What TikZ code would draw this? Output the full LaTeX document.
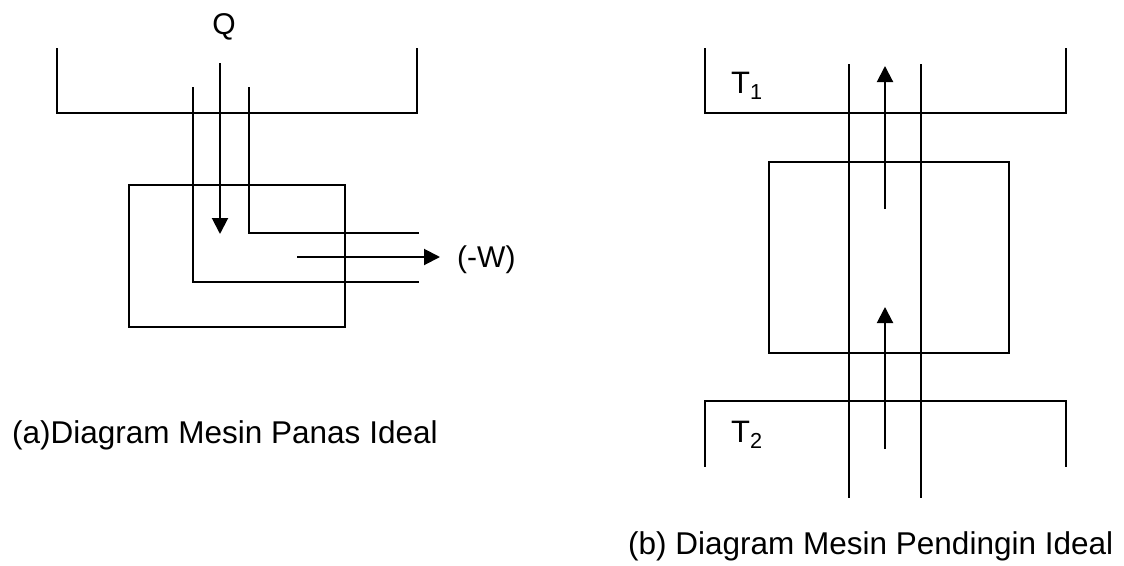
\documentclass[tikz,border=0pt]{standalone}
\usepackage{fontspec}
\setmainfont{Liberation Sans}
\usetikzlibrary{arrows.meta}
\begin{document}
\begin{tikzpicture}[x=1pt,y=-1pt,
  ln/.style={line width=2pt, line cap=rect},
  arr/.style={line width=2pt, -{Triangle[width=16pt,length=16pt]}},
  lbl/.style={font=\fontsize{30}{33}\selectfont, inner sep=0pt},
  tlbl/.style={font=\fontsize{31}{34}\selectfont, inner sep=0pt, anchor=base west},
  captext/.style={font=\fontsize{31.5}{34}\selectfont, inner sep=0pt, anchor=base west}]
\useasboundingbox (0,0) rectangle (1124,565);
% ---------- (a) heat engine ----------
\draw[ln] (57,49) -- (57,113) -- (417,113) -- (417,49);
\node[lbl, anchor=base] (Q) at (224,34) {Q};
\coordinate (qs) at (220,63);
\coordinate (qe) at (220,234);
\draw[arr] (qs) -- (qe);
\draw[ln] (193,88) -- (193,282) -- (418,282);
\draw[ln] (249,88) -- (249,233) -- (418,233);
\draw[ln] (129,185) rectangle (345,327);
\coordinate (ws) at (297,257);
\coordinate (we) at (440,257);
\draw[arr] (ws) -- (we);
\node[lbl, anchor=base west] (W) at (457,267) {(-W)};
\node[captext] (capa) at (12,443) {(a)Diagram Mesin Panas Ideal};
% ---------- (b) refrigerator ----------
\draw[ln] (705,49) -- (705,113) -- (1066,113) -- (1066,49);
\node[tlbl] (T1) at (731,93) {T\textsubscript{1}};
\draw[ln] (849,65) -- (849,497);
\draw[ln] (921,65) -- (921,497);
\draw[ln] (769,162) rectangle (1009,353);
\coordinate (a1s) at (885,209);
\coordinate (a1e) at (885,66);
\draw[arr] (a1s) -- (a1e);
\coordinate (a2s) at (885,449);
\coordinate (a2e) at (885,307);
\draw[arr] (a2s) -- (a2e);
\draw[ln] (705,466) -- (705,401) -- (1066,401) -- (1066,466);
\node[tlbl] (T2) at (731,442) {T\textsubscript{2}};
\node[captext] (capb) at (628,554) {(b) Diagram Mesin Pendingin Ideal};
\end{tikzpicture}
\end{document}
